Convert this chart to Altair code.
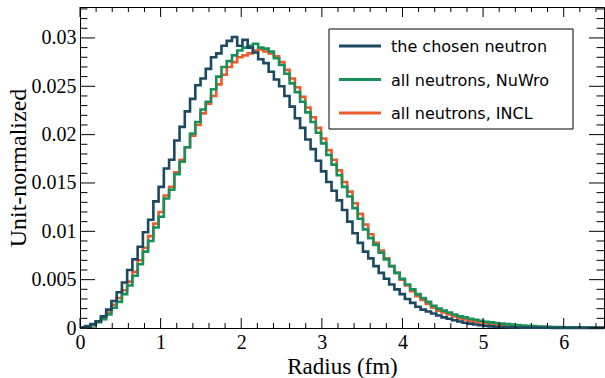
import altair as alt
import pandas as pd
import numpy as np

# ---------------- data ----------------
bin_width = 0.065
n_bins = 100

series_names = ["the chosen neutron", "all neutrons, NuWro", "all neutrons, INCL"]
series_colors = ["#1c4862", "#17905a", "#ef5a2d"]

chosen = [
    0.00005, 0.0002, 0.0004, 0.0007, 0.0012, 0.0019, 0.0028, 0.0037, 0.0047, 0.0060,
    0.0071, 0.0084, 0.0099, 0.0112, 0.0131, 0.0146, 0.0165, 0.0174, 0.0194, 0.0208,
    0.0224, 0.0237, 0.0251, 0.0258, 0.0268, 0.0280, 0.0284, 0.0292, 0.0297, 0.0301,
    0.0292, 0.0298, 0.0290, 0.0285, 0.0278, 0.0274, 0.0265, 0.0257, 0.0250, 0.0240,
    0.0229, 0.0217, 0.0207, 0.0195, 0.0185, 0.0173, 0.0162, 0.0151, 0.0142, 0.0132,
    0.0122, 0.0110, 0.0098, 0.0088, 0.0079, 0.0072, 0.0064, 0.0057, 0.0051, 0.0045,
    0.0040, 0.0035, 0.0030, 0.0026, 0.0022, 0.0019, 0.0017, 0.0015, 0.0013, 0.0011,
    0.00095, 0.0008, 0.00068, 0.00055, 0.00045, 0.00036, 0.00028, 0.00022, 0.00017, 0.00013,
    0.0001, 0.00008, 0.00006, 0.00005, 0.00004, 0.00003, 0.00003, 0.00002, 0.00002, 0.00002,
    0.00001, 0.00001, 0.00001, 0.00001, 0.00001, 0.00001, 0.00001, 0.00001, 0.00001, 0.00001,
]

nuwro = [
    0.00003, 0.00015, 0.0003, 0.0006, 0.0009, 0.0014, 0.0021, 0.0027, 0.0035, 0.0044,
    0.0054, 0.0066, 0.0079, 0.0090, 0.0104, 0.0115, 0.0134, 0.0143, 0.0159, 0.0172,
    0.0187, 0.0201, 0.0213, 0.0226, 0.0234, 0.0247, 0.0260, 0.0270, 0.0276, 0.0282,
    0.0287, 0.0290, 0.0292, 0.0294, 0.0290, 0.0289, 0.0286, 0.0279, 0.0272, 0.0263,
    0.0253, 0.0244, 0.0234, 0.0223, 0.0213, 0.0202, 0.0191, 0.0179, 0.0169, 0.0158,
    0.0146, 0.0136, 0.0124, 0.0113, 0.0102, 0.0093, 0.0086, 0.0078, 0.0071, 0.0064,
    0.0057, 0.0051, 0.0045, 0.0040, 0.0035, 0.0031, 0.0027, 0.0023, 0.0020, 0.0018,
    0.0016, 0.0014, 0.0012, 0.0011, 0.00095, 0.00085, 0.00075, 0.00065, 0.00058, 0.00051,
    0.00045, 0.0004, 0.00035, 0.0003, 0.00026, 0.00022, 0.00019, 0.00016, 0.00014, 0.00012,
    0.0001, 0.00009, 0.00008, 0.00007, 0.00006, 0.00005, 0.00005, 0.00004, 0.00004, 0.00003,
]

incl = [
    0.00004, 0.00018, 0.00035, 0.0007, 0.0011, 0.0016, 0.0024, 0.0031, 0.0039, 0.0048,
    0.0058, 0.0070, 0.0083, 0.0095, 0.0108, 0.0120, 0.0137, 0.0146, 0.0161, 0.0174,
    0.0187, 0.0199, 0.0210, 0.0222, 0.0232, 0.0240, 0.0252, 0.0262, 0.0270, 0.0275,
    0.0280, 0.0282, 0.0284, 0.0287, 0.0288, 0.0286, 0.0284, 0.0281, 0.0275, 0.0267,
    0.0258, 0.0249, 0.0239, 0.0228, 0.0218, 0.0207, 0.0196, 0.0184, 0.0174, 0.0163,
    0.0151, 0.0141, 0.0129, 0.0118, 0.0107, 0.0097, 0.0088, 0.0080, 0.0072, 0.0064,
    0.0057, 0.0050, 0.0044, 0.0038, 0.0033, 0.0029, 0.0025, 0.0021, 0.0018, 0.0016,
    0.0014, 0.0012, 0.0010, 0.00088, 0.00076, 0.00066, 0.00057, 0.00049, 0.00042, 0.00036,
    0.0003, 0.00026, 0.00022, 0.00018, 0.00015, 0.00013, 0.00011, 0.00009, 0.00008, 0.00007,
    0.00006, 0.00005, 0.00005, 0.00004, 0.00004, 0.00003, 0.00003, 0.00003, 0.00002, 0.00002,
]

x_major = [0, 1, 2, 3, 4, 5, 6]
y_major = [0, 0.005, 0.01, 0.015, 0.02, 0.025, 0.03]

x_domain = [0, 6.5]
y_domain = [0, 0.0332]

# ---------------- layout ----------------
W, H = 524, 321
SERIF = "Liberation Serif"
SANS = "DejaVu Sans"

xscale = alt.Scale(domain=x_domain, nice=False, zero=False)
yscale = alt.Scale(domain=y_domain, nice=False, zero=False)


def hist_df(vals, name):
    edges = [round(i * bin_width, 4) for i in range(n_bins + 1)]
    v = list(vals) + [vals[-1]]
    return pd.DataFrame({"r": edges, "v": v, "series": name})


x_axis = alt.Axis(
    values=x_major, format="d", ticks=False, domain=False, grid=False,
    labelFont=SERIF, labelFontSize=20, labelColor="black", labelPadding=4,
    labelFlush=False, labelOverlap=False,
    title="Radius (fm)", titleFont=SERIF, titleFontSize=23, titleFontWeight="normal",
    titleColor="black", titleX=W / 2, titleY=45, titleAlign="center",
    titleBaseline="alphabetic",
)
y_axis = alt.Axis(
    values=y_major, labelExpr="format(datum.value, '~g')", ticks=False, domain=False,
    grid=False, labelFont=SERIF, labelFontSize=20, labelColor="black", labelPadding=4,
    labelFlush=False, labelOverlap=False,
    title="Unit-normalized", titleFont=SERIF, titleFontSize=24, titleFontWeight="normal",
    titleColor="black", titleX=-55, titleY=H / 2, titleAngle=-90, titleAlign="center",
    titleBaseline="alphabetic",
)

X = lambda f: alt.X(f, scale=xscale, axis=x_axis)
Y = lambda f: alt.Y(f, scale=yscale, axis=y_axis)

layers = []

# histograms (drawn INCL, NuWro, then chosen on top)
data_by_name = dict(zip(series_names, [chosen, nuwro, incl]))
color_by_name = dict(zip(series_names, series_colors))
for name in [series_names[2], series_names[1], series_names[0]]:
    df = hist_df(data_by_name[name], name)
    layers.append(alt.Chart(df).mark_line(
        interpolate="step-after", strokeWidth=2.6, color=color_by_name[name]
    ).encode(x=X("r:Q"), y=Y("v:Q")))

# tick marks (inside, on all four sides)
x_minor = [round(v, 1) for v in np.arange(0, 6.5001, 0.2) if abs(v - round(v)) > 1e-6]
y_minor = [round(v, 4) for v in np.arange(0, 0.0332, 0.001) if abs(v / 0.005 - round(v / 0.005)) > 1e-6]

xmaj_df = pd.DataFrame({"r": x_major})
xmin_df = pd.DataFrame({"r": x_minor})
ymaj_df = pd.DataFrame({"v": y_major})
ymin_df = pd.DataFrame({"v": y_minor})

for df, L in [(xmaj_df, 10), (xmin_df, 5)]:
    layers.append(alt.Chart(df).mark_rule(color="black", strokeWidth=1).encode(
        x=X("r:Q"), y=alt.value(H), y2=alt.value(H - L)))
    layers.append(alt.Chart(df).mark_rule(color="black", strokeWidth=1).encode(
        x=X("r:Q"), y=alt.value(0), y2=alt.value(L)))
for df, L in [(ymaj_df, 15), (ymin_df, 7.5)]:
    layers.append(alt.Chart(df).mark_rule(color="black", strokeWidth=1).encode(
        y=Y("v:Q"), x=alt.value(0), x2=alt.value(L)))
    layers.append(alt.Chart(df).mark_rule(color="black", strokeWidth=1).encode(
        y=Y("v:Q"), x=alt.value(W), x2=alt.value(W - L)))

# legend
one = pd.DataFrame({"a": [0]})
LX0, LX1, LY0, LY1 = 249, 493, 22, 122
layers.append(alt.Chart(one).mark_rect(fill="white", stroke="black", strokeWidth=1).encode(
    x=alt.value(LX0), x2=alt.value(LX1), y=alt.value(LY0), y2=alt.value(LY1)))
for i, name in enumerate(series_names):
    ry = 39 + 33.5 * i
    layers.append(alt.Chart(one).mark_rule(color=color_by_name[name], strokeWidth=3).encode(
        x=alt.value(259), x2=alt.value(301), y=alt.value(ry)))
    layers.append(alt.Chart(one).mark_text(
        text=name, align="left", baseline="middle", font=SANS, fontSize=16, color="black"
    ).encode(x=alt.value(311), y=alt.value(ry + 1)))

chart = alt.layer(*layers).properties(
    width=W, height=H,
    autosize=alt.AutoSizeParams(type="none"),
    padding={"left": 80, "top": 7, "right": 1, "bottom": 50},
    background="white",
).configure_view(stroke="black", strokeWidth=1)

chart.save("out.html", embed_options={"renderer": "svg", "actions": False})
